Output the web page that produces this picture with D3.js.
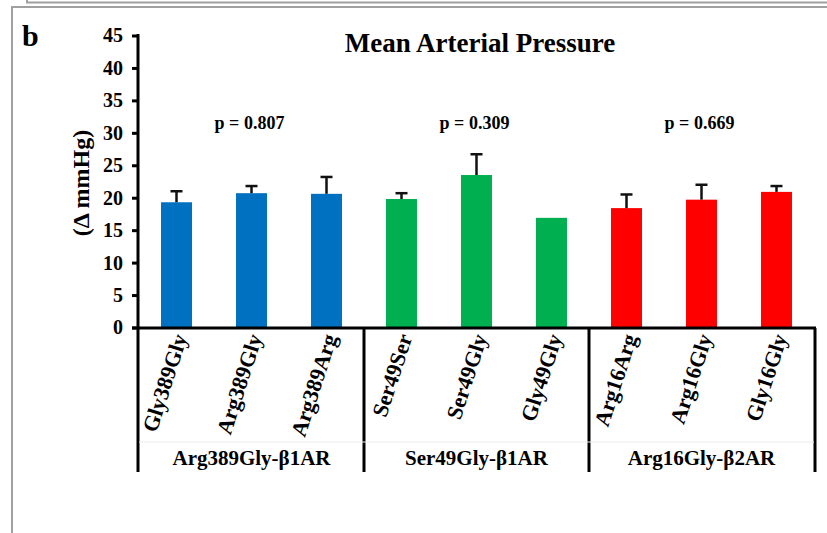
<!DOCTYPE html>
<html>
<head>
<meta charset="utf-8">
<script src="https://cdn.jsdelivr.net/npm/d3@7"></script>
<style>
  html, body { margin: 0; padding: 0; background: #fff; }
  svg { display: block; }
  text { font-family: "Liberation Serif", "Times New Roman", serif; font-weight: bold; fill: #000; }
</style>
</head>
<body>
<svg id="chart" width="827" height="533"></svg>
<script>
// ---- data ----
const categories = ["Gly389Gly", "Arg389Gly", "Arg389Arg", "Ser49Ser", "Ser49Gly", "Gly49Gly", "Arg16Arg", "Arg16Gly", "Gly16Gly"];
const groups = ["Arg389Gly-β1AR", "Ser49Gly-β1AR", "Arg16Gly-β2AR"];
const groupOf = [0, 0, 0, 1, 1, 1, 2, 2, 2];
const means = [19.3, 20.7, 20.6, 19.8, 23.5, 16.9, 18.4, 19.7, 20.9];
const errors = [1.7, 1.1, 2.6, 0.9, 3.2, 0, 2.1, 2.3, 0.9];
const pValues = ["p = 0.807", "p = 0.309", "p = 0.669"];
const groupColors = ["#0070C0", "#00B050", "#FF0000"];
const yTicks = [0, 5, 10, 15, 20, 25, 30, 35, 40, 45];

const svg = d3.select("#chart");

// frame lines
const frame = svg.append("g").attr("fill", "none").attr("stroke", "#a0a0a0").attr("stroke-width", 2);
frame.append("path").attr("d", "M27,0 V2.5 H827");
frame.append("path").attr("d", "M12,533 V7 H827");

const x = d3.scaleBand().domain(categories).range([139, 814]).paddingInner(0.587).paddingOuter(0.2935);
const y = d3.scaleLinear().domain([0, 45]).range([327.5, 35.5]);

// bars
svg.append("g").selectAll("rect").data(categories).join("rect")
  .attr("x", d => x(d))
  .attr("width", x.bandwidth())
  .attr("y", (d, i) => y(means[i]))
  .attr("height", (d, i) => y(0) - y(means[i]))
  .attr("fill", (d, i) => groupColors[groupOf[i]]);

// error bars
const eg = svg.append("g").attr("stroke", "#111").attr("stroke-width", 2.5);
categories.forEach((c, i) => {
  if (!errors[i]) return;
  const cx = x(c) + x.bandwidth() / 2;
  eg.append("line").attr("x1", cx).attr("x2", cx).attr("y1", y(means[i])).attr("y2", y(means[i] + errors[i]));
  eg.append("line").attr("x1", cx - 6).attr("x2", cx + 6).attr("y1", y(means[i] + errors[i])).attr("y2", y(means[i] + errors[i]));
});

// y axis
const yAxis = svg.append("g").attr("transform", "translate(138,0)")
  .call(d3.axisLeft(y).tickValues(yTicks).tickSize(6).tickPadding(9).tickSizeOuter(0));
yAxis.select(".domain").remove();
yAxis.selectAll(".tick line").attr("stroke", "#000").attr("stroke-width", 3);
yAxis.selectAll(".tick text").style("font-size", "20px").style("font-family", "'Liberation Serif', serif").style("font-weight", "bold").attr("fill", "#000");

// axis lines
const ax = svg.append("g").attr("stroke", "#000").attr("stroke-width", 3);
ax.append("line").attr("x1", 138).attr("x2", 138).attr("y1", 34).attr("y2", 472);
ax.append("line").attr("x1", 132).attr("x2", 816).attr("y1", 328).attr("y2", 328);
[3, 6, 9].forEach(k => {
  const sx = k < 9 ? x(categories[k]) - x.step() * x.paddingInner() / 2 : 815;
  ax.append("line").attr("x1", sx).attr("x2", sx).attr("y1", 328).attr("y2", 472);
});
svg.append("line").attr("x1", 139).attr("x2", 814).attr("y1", 442).attr("y2", 442)
  .attr("stroke", "#ececec").attr("stroke-width", 1);

// x tick labels
svg.append("g").selectAll("text").data(categories).join("text")
  .attr("transform", d => `translate(${x(d) + x.bandwidth() / 2 + 11},${337}) rotate(-72)`)
  .attr("text-anchor", "end")
  .style("font-size", "22px")
  .text(d => d);

// group labels
groups.forEach((g, k) => {
  const c0 = x(categories[k * 3]), c2 = x(categories[k * 3 + 2]) + x.bandwidth();
  svg.append("text").attr("x", (c0 + c2) / 2).attr("y", 465).attr("text-anchor", "middle")
    .style("font-size", "21px").text(g);
  svg.append("text").attr("x", (c0 + c2) / 2 - 2).attr("y", 129).attr("text-anchor", "middle")
    .style("font-size", "18px").text(pValues[k]);
});

// title
svg.append("text").attr("x", 480).attr("y", 52).attr("text-anchor", "middle").style("font-size", "27px").text("Mean Arterial Pressure");

// y title
svg.append("text").attr("transform", "translate(89,183) rotate(-90)").attr("text-anchor", "middle")
  .style("font-size", "24px").text("(Δ mmHg)");

// panel letter
svg.append("text").attr("x", 22).attr("y", 46).style("font-size", "30px").text("b");
</script>
</body>
</html>
